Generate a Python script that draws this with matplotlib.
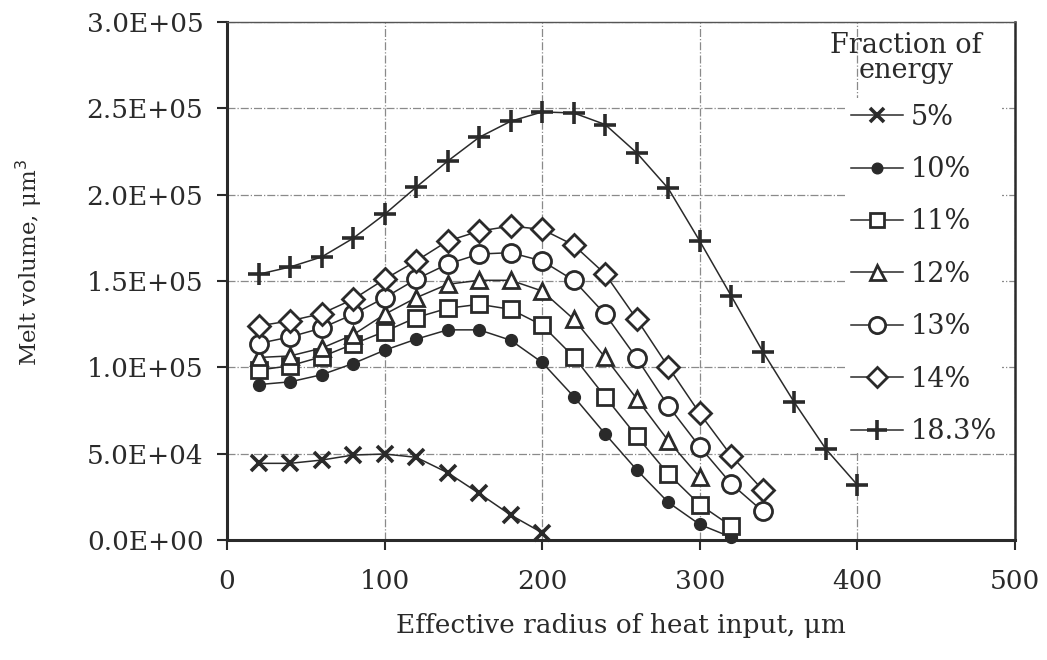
import matplotlib
matplotlib.use("Agg")
import matplotlib.pyplot as plt
from matplotlib.ticker import FuncFormatter

# Radio efectivo (um), mismo paso para todas las series
radius = [20, 40, 60, 80, 100, 120, 140, 160, 180, 200,
          220, 240, 260, 280, 300, 320, 340, 360, 380, 400]

# Volumen fundido (um^3) por fraccion de energia
vol_5 = [4.44e4, 4.44e4, 4.63e4, 4.92e4, 4.98e4, 4.79e4, 3.90e4, 2.70e4, 1.45e4, 0.42e4]
vol_10 = [9.0e4, 9.16e4, 9.57e4, 1.022e5, 1.099e5, 1.163e5, 1.217e5, 1.217e5, 1.157e5,
          1.028e5, 8.31e4, 6.14e4, 4.06e4, 2.18e4, 0.90e4, 0.16e4]
vol_11 = [9.84e4, 1.009e5, 1.061e5, 1.134e5, 1.207e5, 1.288e5, 1.342e5, 1.365e5, 1.336e5,
          1.244e5, 1.061e5, 8.29e4, 6.01e4, 3.83e4, 2.05e4, 0.80e4]
vol_12 = [1.057e5, 1.066e5, 1.111e5, 1.188e5, 1.307e5, 1.403e5, 1.481e5, 1.504e5, 1.504e5,
          1.442e5, 1.279e5, 1.057e5, 8.18e4, 5.75e4, 3.63e4]
vol_13 = [1.138e5, 1.176e5, 1.227e5, 1.307e5, 1.403e5, 1.510e5, 1.598e5, 1.656e5, 1.664e5,
          1.616e5, 1.504e5, 1.307e5, 1.053e5, 7.77e4, 5.40e4, 3.25e4, 1.66e4]
vol_14 = [1.240e5, 1.269e5, 1.311e5, 1.394e5, 1.510e5, 1.616e5, 1.731e5, 1.789e5, 1.818e5,
          1.799e5, 1.708e5, 1.540e5, 1.279e5, 1.003e5, 7.33e4, 4.88e4, 2.90e4]
vol_183 = [1.539e5, 1.581e5, 1.639e5, 1.747e5, 1.886e5, 2.043e5, 2.194e5, 2.332e5, 2.425e5,
           2.479e5, 2.473e5, 2.406e5, 2.242e5, 2.036e5, 1.731e5, 1.413e5, 1.091e5, 7.97e4,
           5.27e4, 3.19e4]

labels = ["5%", "10%", "11%", "12%", "13%", "14%", "18.3%"]
legend_title = "Fraction of\nenergy"
x_ticks = [0, 100, 200, 300, 400, 500]
y_ticks = [0, 5e4, 1e5, 1.5e5, 2e5, 2.5e5, 3e5]

INK = "#2a2a2a"


def formato_sci(v, pos):
    """Etiqueta estilo Excel: 2.5E+05"""
    return f"{v:.1E}"


def main():
    plt.rcParams["font.family"] = ["DejaVu Serif"]
    fig = plt.figure(figsize=(10.47, 6.6), dpi=100)
    ax = fig.add_axes([0.2168, 0.1818, 0.7526, 0.7849])

    series = [vol_5, vol_10, vol_11, vol_12, vol_13, vol_14, vol_183]
    # marcador, tamano, relleno, grosor de borde
    estilos = [("x", 11, INK, 2.6),
               ("o", 8.5, INK, 1.0),
               ("s", 11, "white", 2.0),
               ("^", 12, "white", 2.0),
               ("o", 13, "white", 2.0),
               ("D", 11, "white", 2.0),
               ("+", 16, INK, 2.6)]

    for vals, lab, (m, ms, fc, mew) in zip(series, labels, estilos):
        ax.plot(radius[:len(vals)], vals, color=INK, lw=1.1, marker=m, markersize=ms,
                markerfacecolor=fc, markeredgecolor=INK, markeredgewidth=mew,
                label=lab, clip_on=False)

    ax.set_xlim(0, 500)
    ax.set_ylim(0, 3e5)
    ax.set_xticks(x_ticks)
    ax.set_yticks(y_ticks)
    ax.yaxis.set_major_formatter(FuncFormatter(formato_sci))
    ax.tick_params(axis="both", labelsize=19, colors=INK, direction="out",
                   length=7, width=1.5)
    ax.tick_params(axis="x", pad=14)
    ax.tick_params(axis="y", pad=10)
    ax.grid(True, color="#8a8a8a", linestyle="-.", linewidth=0.9)
    ax.set_axisbelow(True)

    for lado in ["left", "bottom"]:
        ax.spines[lado].set_linewidth(2.2)
        ax.spines[lado].set_color(INK)
    ax.spines["right"].set_linewidth(1.8)
    ax.spines["right"].set_color(INK)
    ax.spines["top"].set_linewidth(1.0)
    ax.spines["top"].set_color("#555555")

    ax.set_xlabel("Effective radius of heat input, μm", fontsize=19, color=INK)
    ax.set_ylabel("Melt volume, μm$^3$", fontsize=16.5, color=INK)
    ax.xaxis.set_label_coords(0.5, -0.14)
    ax.yaxis.set_label_coords(-0.232, 0.535)

    # Leyenda sin titulo; el titulo va como texto aparte (centrado mas a la izquierda)
    leg = ax.legend(loc="upper right", bbox_to_anchor=(0.984, 0.853),
                    fontsize=19.5, frameon=True, fancybox=False, edgecolor="none",
                    handlelength=1.9, handletextpad=0.3, labelspacing=0.94,
                    borderpad=0.2, borderaxespad=0.0, markerscale=0.9)
    leg.get_frame().set_facecolor("white")
    leg.get_frame().set_alpha(1.0)
    for t in leg.get_texts():
        t.set_color(INK)
    leg.set_zorder(10)

    ax.text(0.862, 0.981, legend_title, transform=ax.transAxes, ha="center",
            va="top", fontsize=19.5, color=INK, linespacing=0.92, zorder=11)

    fig.savefig("out.png", dpi=100)


if __name__ == "__main__":
    main()
